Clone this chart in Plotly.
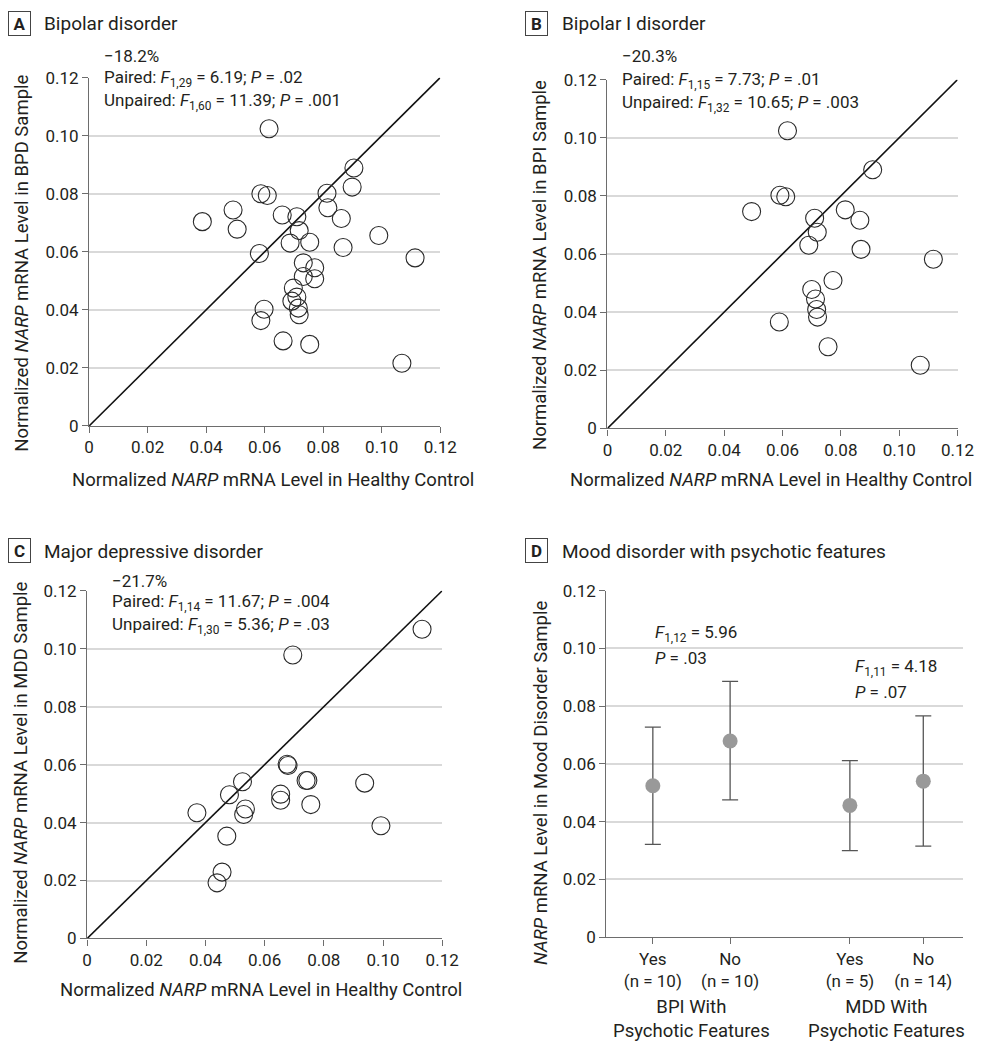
import plotly.graph_objects as go

# ---------------- DATA ----------------
# Panel A: Bipolar disorder (healthy control vs BPD sample)
a_control = [0.0615, 0.0905, 0.0899, 0.0587, 0.0609, 0.0813, 0.0816, 0.0492, 0.0387, 0.0506,
             0.0660, 0.0710, 0.0718, 0.0862, 0.0687, 0.0754, 0.0582, 0.0868, 0.0990, 0.1114,
             0.0732, 0.0771, 0.0732, 0.0771, 0.0698, 0.0710, 0.0693, 0.0715, 0.0718, 0.0598,
             0.0587, 0.0663, 0.0754, 0.1069]
a_sample = [0.1024, 0.0889, 0.0823, 0.0800, 0.0794, 0.0802, 0.0752, 0.0744, 0.0704, 0.0678,
            0.0727, 0.0721, 0.0673, 0.0715, 0.0630, 0.0633, 0.0594, 0.0615, 0.0656, 0.0579,
            0.0562, 0.0545, 0.0515, 0.0507, 0.0475, 0.0444, 0.0430, 0.0406, 0.0383, 0.0402,
            0.0363, 0.0293, 0.0281, 0.0216]

# Panel B: Bipolar I disorder
b_control = [0.0617, 0.0909, 0.0591, 0.0611, 0.0494, 0.0815, 0.0710, 0.0865, 0.0719, 0.0690,
             0.0869, 0.1117, 0.0773, 0.0700, 0.0713, 0.0717, 0.0720, 0.0589, 0.0756, 0.1072]
b_sample = [0.1024, 0.0890, 0.0802, 0.0797, 0.0746, 0.0752, 0.0723, 0.0716, 0.0675, 0.0630,
            0.0616, 0.0582, 0.0509, 0.0478, 0.0445, 0.0409, 0.0383, 0.0366, 0.0281, 0.0217]

# Panel C: Major depressive disorder
c_control = [0.1132, 0.0695, 0.0676, 0.0679, 0.0740, 0.0746, 0.0938, 0.0525, 0.0481, 0.0654,
             0.0654, 0.0756, 0.0371, 0.0535, 0.0529, 0.0993, 0.0472, 0.0456, 0.0439]
c_sample = [0.1067, 0.0978, 0.0601, 0.0597, 0.0545, 0.0545, 0.0536, 0.0541, 0.0496, 0.0498,
            0.0477, 0.0462, 0.0434, 0.0447, 0.0428, 0.0389, 0.0353, 0.0229, 0.0192]

# Panel D: Mood disorder with psychotic features
d_ticklabels = ["Yes<br>(n = 10)", "No<br>(n = 10)", "Yes<br>(n = 5)", "No<br>(n = 14)"]
d_means = [0.0524, 0.0679, 0.0456, 0.0540]
d_upper = [0.0727, 0.0886, 0.0611, 0.0766]
d_lower = [0.0321, 0.0475, 0.0299, 0.0315]
d_groups = ["BPI With<br>Psychotic Features", "MDD With<br>Psychotic Features"]

axis_ticks = [0, 0.02, 0.04, 0.06, 0.08, 0.10, 0.12]
axis_ticktext = ["0", "0.02", "0.04", "0.06", "0.08", "0.10", "0.12"]

# ---------------- LAYOUT HELPERS ----------------
W, H = 1001, 1050
FONT = "Roboto"
TXT = "#231f20"
AX = "#6d6d6d"
GRID = "#d9d9d9"


def px(x):
    return x / W


def py(y):
    return 1 - y / H


fig = go.Figure()

scatter_panels = [
    ("x", "y", a_control, a_sample),
    ("x2", "y2", b_control, b_sample),
    ("x3", "y3", c_control, c_sample),
]
for xa, ya, xs, ys in scatter_panels:
    fig.add_trace(go.Scatter(x=[0, 0.12], y=[0, 0.12], mode="lines", xaxis=xa, yaxis=ya,
                             line=dict(color="#111111", width=1.6), hoverinfo="skip",
                             showlegend=False))
    fig.add_trace(go.Scatter(x=xs, y=ys, mode="markers", xaxis=xa, yaxis=ya,
                             marker=dict(symbol="circle-open", size=18, color="#2a2a2a",
                                         line=dict(width=1.1, color="#2a2a2a")),
                             showlegend=False))

d_pos = [1, 2, 3.55, 4.5]
fig.add_trace(go.Scatter(
    x=d_pos, y=d_means, mode="markers", xaxis="x4", yaxis="y4",
    marker=dict(size=15, color="#999999"),
    error_y=dict(type="data", symmetric=False,
                 array=[u - m for u, m in zip(d_upper, d_means)],
                 arrayminus=[m - l for m, l in zip(d_means, d_lower)],
                 color="#555555", thickness=1.3, width=8),
    showlegend=False))

# domains (pixel-based)
domains = {
    "1": dict(x=(86, 445), y=(69, 424)),
    "2": dict(x=(616, 974), y=(71, 426.5)),
    "3": dict(x=(84, 447), y=(592, 946.5)),
    "4": dict(x=(615, 980), y=(592, 945)),
}

layout = dict(
    width=W, height=H, autosize=False,
    margin=dict(l=0, r=0, t=0, b=0),
    paper_bgcolor="white", plot_bgcolor="white",
    font=dict(family=FONT, size=16, color=TXT),
    showlegend=False,
)

TICKFONT = dict(size=17, family=FONT, color=TXT)
for k, d in domains.items():
    suffix = "" if k == "1" else k
    xd = [px(d["x"][0]), px(d["x"][1])]
    yd = [py(d["y"][1]), py(d["y"][0])]
    yaxis = dict(domain=yd, anchor="x" + suffix, range=[0, 0.12], tickvals=axis_ticks,
                 ticktext=axis_ticktext, showline=True, linecolor=AX, linewidth=1.3,
                 ticks="outside", ticklen=6, tickcolor=AX, tickwidth=1.3,
                 showgrid=True, gridcolor=GRID, gridwidth=2, zeroline=False,
                 tickfont=TICKFONT, fixedrange=True)
    if k == "4":
        xaxis = dict(domain=xd, anchor="y" + suffix, range=[0.4, 5.02], tickvals=d_pos,
                     ticktext=d_ticklabels, showline=True, linecolor=AX, linewidth=1.3,
                     ticks="outside", ticklen=6, tickcolor=AX, tickwidth=1.3,
                     showgrid=False, zeroline=False, tickfont=TICKFONT)
    else:
        xaxis = dict(domain=xd, anchor="y" + suffix, range=[0, 0.12], tickvals=axis_ticks,
                     ticktext=axis_ticktext, showline=True, linecolor=AX, linewidth=1.3,
                     ticks="outside", ticklen=6, tickcolor=AX, tickwidth=1.3,
                     showgrid=False, zeroline=False, tickfont=TICKFONT)
    layout["xaxis" + suffix] = xaxis
    layout["yaxis" + suffix] = yaxis

fig.update_layout(**layout)

ann = []


def text(x, y, s, size=17, xanchor="left", angle=0, **kw):
    ann.append(dict(x=px(x), y=py(y), xref="paper", yref="paper", text=s, showarrow=False,
                    xanchor=xanchor, yanchor="middle", textangle=angle,
                    font=dict(family=FONT, size=size, color=TXT), **kw))


def panel_label(x0, y0, letter, title):
    ann.append(dict(x=px(x0 + 12.5), y=py(y0 + 12.5), xref="paper", yref="paper",
                    text="<b>%s</b>" % letter, showarrow=False, xanchor="center",
                    yanchor="middle", width=19, height=21, bordercolor="#444444",
                    borderwidth=1, borderpad=1,
                    font=dict(family=FONT, size=17, color=TXT)))
    text(x0 + 36, y0 + 13, title, size=19)


panel_label(2, 1, "A", "Bipolar disorder")
panel_label(531, 1, "B", "Bipolar I disorder")
panel_label(2, 539, "C", "Major depressive disorder")
panel_label(531, 539, "D", "Mood disorder with psychotic features")

# stats text
text(99, 47, "\u221218.2%")
text(99, 70, "Paired: <i>F</i><sub>1,29</sub> = 6.19; <i>P</i> = .02")
text(99, 93, "Unpaired: <i>F</i><sub>1,60</sub> = 11.39; <i>P</i> = .001")
text(629, 47, "\u221220.3%")
text(629, 72, "Paired: <i>F</i><sub>1,15</sub> = 7.73; <i>P</i> = .01")
text(629, 95, "Unpaired: <i>F</i><sub>1,32</sub> = 10.65; <i>P</i> = .003")
text(107, 582, "\u221221.7%")
text(107, 604, "Paired: <i>F</i><sub>1,14</sub> = 11.67; <i>P</i> = .004")
text(107, 627, "Unpaired: <i>F</i><sub>1,30</sub> = 5.36; <i>P</i> = .03")
text(663, 636, "<i>F</i><sub>1,12</sub> = 5.96")
text(663, 661, "<i>P</i> = .03")
text(867, 670, "<i>F</i><sub>1,11</sub> = 4.18")
text(867, 695, "<i>P</i> = .07")

# axis titles
TS = 18.5
text(17, 258, "Normalized <i>NARP</i> mRNA Level in BPD Sample", size=TS, xanchor="center", angle=-90)
text(547, 260, "Normalized <i>NARP</i> mRNA Level in BPI Sample", size=TS, xanchor="center", angle=-90)
text(17, 778, "Normalized <i>NARP</i> mRNA Level in MDD Sample", size=TS, xanchor="center", angle=-90)
text(548, 788, "<i>NARP</i> mRNA Level in Mood Disorder Sample", size=TS, xanchor="center", angle=-90)
text(274, 479, "Normalized <i>NARP</i> mRNA Level in Healthy Control", size=TS, xanchor="center")
text(783, 479, "Normalized <i>NARP</i> mRNA Level in Healthy Control", size=TS, xanchor="center")
text(262, 999, "Normalized <i>NARP</i> mRNA Level in Healthy Control", size=TS, xanchor="center")

# group labels for panel D
for i, g in enumerate(d_groups):
    ann.append(dict(x=(d_pos[2 * i] + d_pos[2 * i + 1]) / 2, y=py(1029), xref="x4",
                    yref="paper", text=g, showarrow=False, xanchor="center",
                    yanchor="middle", font=dict(family=FONT, size=TS, color=TXT)))

fig.update_layout(annotations=ann)
fig.write_html("out.html", config={"displayModeBar": False},
               post_script="document.body.style.margin='0';document.body.style.overflow='hidden';")
